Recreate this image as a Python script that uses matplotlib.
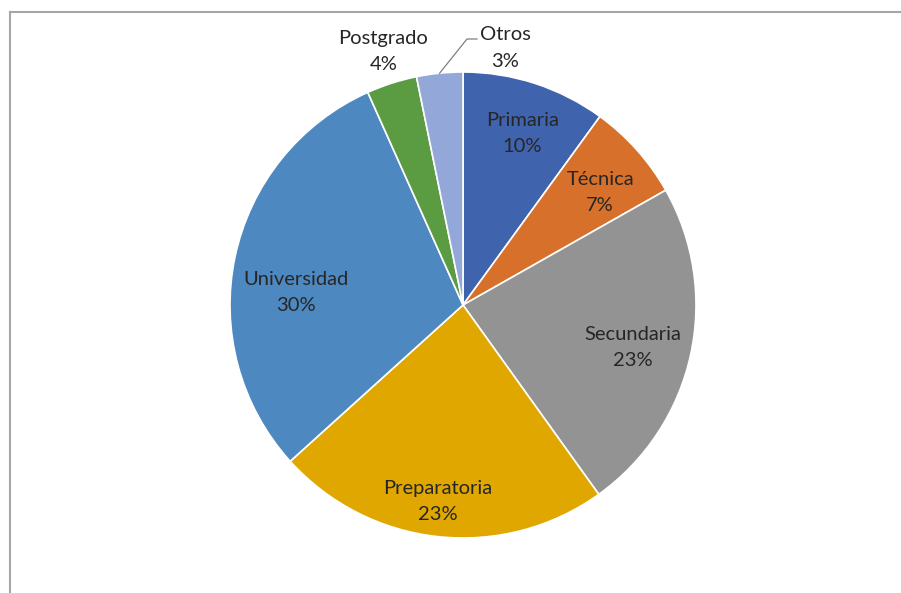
import numpy as np
import matplotlib
matplotlib.use('Agg')
import matplotlib.pyplot as plt
from matplotlib.lines import Line2D

categories = ['Primaria', 'Técnica', 'Secundaria', 'Preparatoria', 'Universidad', 'Postgrado', 'Otros']
shares = [10.0, 6.8, 23.3, 23.2, 30.0, 3.5, 3.2]
colors = ['#3F63AD', '#D6702B', '#939393', '#E0A700', '#4D89C0', '#5B9B42', '#93A7D8']

# label placement (Excel "best fit" look): radius fraction and angle shift
label_r = [0.78, 0.76, 0.75, 0.85, 0.72, 1.14, 1.10]
label_shift = [-1, -2.5, -1.8, -1.2, 7.5, -0.4, 0]

plt.rcParams['font.family'] = ['Lato', 'DejaVu Sans']

fig = plt.figure(figsize=(9.01, 5.93), dpi=100)
ax = fig.add_axes([0, 0, 1, 1])

R = 233.0
cx, cy = 463.0, 305.0
W, H = 901.0, 593.0

wedges, _ = ax.pie(shares, colors=colors, startangle=90, counterclock=False,
                   radius=1.0, wedgeprops=dict(edgecolor='white', linewidth=1.2))

ax.set_xlim(-cx / R, (W - cx) / R)
ax.set_ylim(-(H - cy) / R, cy / R)
ax.set_aspect('auto')
ax.axis('off')

for i, (w, name, v) in enumerate(zip(wedges, categories, shares)):
    mid = np.deg2rad((w.theta1 + w.theta2) / 2 + label_shift[i])
    if name == 'Otros':
        # pushed aside, with a leader line
        tx, ty = 42 / R, 257 / R
        ax.plot([np.cos(mid) * 1.0, 4 / R, 14 / R], [np.sin(mid) * 1.0, 266 / R, 266 / R],
                color='#7f7f7f', lw=0.9)
    else:
        tx, ty = np.cos(mid) * label_r[i], np.sin(mid) * label_r[i]
    ax.text(tx, ty, f"{name}\n{int(v + 0.5)}%", ha='center', va='center',
            fontsize=14.5, color='#262626', linespacing=1.65)

# chart area border (cropped: only top and left visible)
fig.add_artist(Line2D([10 / W, 10 / W], [0, 1 - 12 / H], color='#A6A6A6', lw=1.5,
                      transform=fig.transFigure))
fig.add_artist(Line2D([10 / W, 1], [1 - 12 / H, 1 - 12 / H], color='#A6A6A6', lw=1.5,
                      transform=fig.transFigure))

fig.savefig('out.png', dpi=100)
